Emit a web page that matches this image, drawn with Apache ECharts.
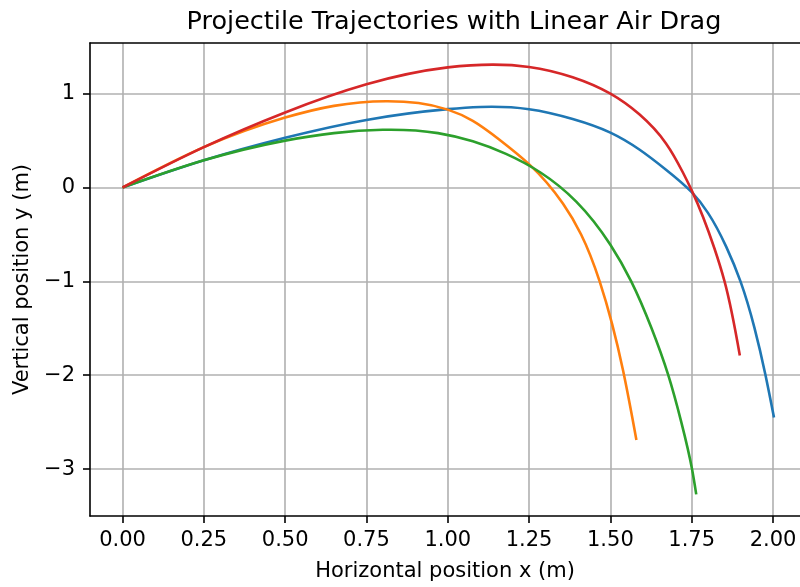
<!DOCTYPE html>
<html>
<head>
<meta charset="utf-8">
<script src="https://cdn.jsdelivr.net/npm/echarts@6/dist/echarts.min.js"></script>
<style>
  html, body { margin: 0; padding: 0; background: #fff; }
  #chart { width: 800px; height: 587px; }
</style>
</head>
<body>
<div id="chart"></div>
<script>
// tick values
const xTicks = [0, 0.25, 0.5, 0.75, 1.0, 1.25, 1.5, 1.75, 2.0];
const yTicks = [-3, -2, -1, 0, 1];

// trajectories: [x, y]
const trajBlue = [
  [0, 0], [0.25, 0.29], [0.5, 0.53], [0.75, 0.72], [1.0, 0.835], [1.1, 0.858],
  [1.25, 0.834], [1.384, 0.73], [1.5, 0.585], [1.589, 0.405], [1.671, 0.19],
  [1.75, -0.05], [1.80, -0.27], [1.856, -0.63], [1.90, -1.0], [1.943, -1.495],
  [1.977, -2.0], [2.003, -2.45]
];
const trajOrange = [
  [0, 0], [0.25, 0.43], [0.5, 0.745], [0.65, 0.87], [0.81, 0.92], [0.91, 0.90],
  [1.0, 0.83], [1.077, 0.711], [1.159, 0.51], [1.249, 0.252], [1.354, -0.171],
  [1.41, -0.50], [1.467, -1.0], [1.505, -1.45], [1.539, -1.95], [1.58, -2.69]
];
const trajGreen = [
  [0, 0], [0.25, 0.29], [0.5, 0.50], [0.65, 0.58], [0.8, 0.615], [0.97, 0.58],
  [1.077, 0.492], [1.179, 0.358], [1.285, 0.16], [1.395, -0.15], [1.50, -0.61],
  [1.564, -1.0], [1.626, -1.495], [1.678, -2.0], [1.718, -2.5], [1.751, -3.0],
  [1.764, -3.27]
];
const trajRed = [
  [0, 0], [0.25, 0.43], [0.5, 0.80], [0.75, 1.10], [1.0, 1.28], [1.14, 1.31],
  [1.25, 1.285], [1.384, 1.175], [1.5, 1.0], [1.589, 0.78], [1.671, 0.47],
  [1.723, 0.16], [1.75, -0.03], [1.82, -0.65], [1.851, -1.0], [1.898, -1.79]
];

const font = 'DejaVu Sans';
const minus = v => String(v).replace('-', '\u2212');

const chart = echarts.init(document.getElementById('chart'));

// natural cubic spline (chord-length parameter) through pixel points, as bezier path
function splinePath(pts) {
  const n = pts.length;
  const t = [0];
  for (let i = 1; i < n; i++) {
    t.push(t[i - 1] + Math.hypot(pts[i][0] - pts[i - 1][0], pts[i][1] - pts[i - 1][1]));
  }
  const h = [];
  for (let i = 0; i < n - 1; i++) h.push(t[i + 1] - t[i]);
  function second(v) {
    // solve tridiagonal system for second derivatives, natural ends
    const M = new Array(n).fill(0);
    if (n < 3) return M;
    const a = [], b = [], c = [], r = [];
    for (let i = 1; i < n - 1; i++) {
      a.push(h[i - 1]);
      b.push(2 * (h[i - 1] + h[i]));
      c.push(h[i]);
      r.push(6 * ((v[i + 1] - v[i]) / h[i] - (v[i] - v[i - 1]) / h[i - 1]));
    }
    const m = b.length;
    for (let i = 1; i < m; i++) {
      const w = a[i] / b[i - 1];
      b[i] -= w * c[i - 1];
      r[i] -= w * r[i - 1];
    }
    const s = new Array(m);
    s[m - 1] = r[m - 1] / b[m - 1];
    for (let i = m - 2; i >= 0; i--) s[i] = (r[i] - c[i] * s[i + 1]) / b[i];
    for (let i = 0; i < m; i++) M[i + 1] = s[i];
    return M;
  }
  const xs = pts.map(p => p[0]), ys = pts.map(p => p[1]);
  const Mx = second(xs), My = second(ys);
  let path = 'M' + xs[0] + ' ' + ys[0];
  for (let i = 0; i < n - 1; i++) {
    const hi = h[i];
    const dx0 = (xs[i + 1] - xs[i]) / hi - hi * (2 * Mx[i] + Mx[i + 1]) / 6;
    const dy0 = (ys[i + 1] - ys[i]) / hi - hi * (2 * My[i] + My[i + 1]) / 6;
    const dx1 = (xs[i + 1] - xs[i]) / hi + hi * (Mx[i] + 2 * Mx[i + 1]) / 6;
    const dy1 = (ys[i + 1] - ys[i]) / hi + hi * (My[i] + 2 * My[i + 1]) / 6;
    path += 'C' + (xs[i] + dx0 * hi / 3) + ' ' + (ys[i] + dy0 * hi / 3) + ' ' +
      (xs[i + 1] - dx1 * hi / 3) + ' ' + (ys[i + 1] - dy1 * hi / 3) + ' ' +
      xs[i + 1] + ' ' + ys[i + 1];
  }
  return path;
}

function curve(data, color) {
  return {
    type: 'custom',
    data: data,
    encode: { x: 0, y: 1 },
    renderItem: function (params, api) {
      if (params.dataIndex !== 0) return null;
      const pts = data.map(p => api.coord(p));
      return {
        type: 'path',
        shape: { pathData: splinePath(pts) },
        style: { stroke: color, fill: 'none', lineWidth: 2.6, lineJoin: 'round' }
      };
    }
  };
}

chart.setOption({
  animation: false,
  title: {
    text: 'Projectile Trajectories with Linear Air Drag',
    left: 449,
    textAlign: 'center',
    top: 4,
    textStyle: { fontFamily: font, fontSize: 25.5, fontWeight: 'normal', color: '#000' }
  },
  grid: { left: 90, right: 0, top: 43, bottom: 69 },
  xAxis: [{
    type: 'value',
    min: -0.1,
    max: 2.083,
    name: 'Horizontal position x (m)',
    nameLocation: 'middle',
    nameGap: 45,
    nameTextStyle: { fontFamily: font, fontSize: 21, color: '#000' },
    axisLine: { onZero: false, lineStyle: { color: '#000', width: 1.6 } },
    axisTick: { customValues: xTicks, length: 7, lineStyle: { color: '#000', width: 1.6 } },
    axisLabel: {
      customValues: xTicks, margin: 14,
      fontFamily: font, fontSize: 21, color: '#000',
      formatter: v => v.toFixed(2)
    },
    splitLine: { show: true, lineStyle: { color: '#b0b0b0', width: 1.6 } }
  }, {
    type: 'value',
    position: 'top',
    min: -0.1,
    max: 2.083,
    axisLine: { show: true, onZero: false, lineStyle: { color: '#000', width: 1.6 } },
    axisTick: { show: false },
    axisLabel: { show: false },
    splitLine: { show: false }
  }],
  yAxis: {
    type: 'value',
    min: -3.5,
    max: 1.54,
    name: 'Vertical position y (m)',
    nameLocation: 'middle',
    nameGap: 57,
    nameTextStyle: { fontFamily: font, fontSize: 21, color: '#000' },
    axisLine: { show: true, onZero: false, lineStyle: { color: '#000', width: 1.6 } },
    axisTick: { show: true, customValues: yTicks, length: 7, lineStyle: { color: '#000', width: 1.6 } },
    axisLabel: {
      customValues: yTicks, margin: 15,
      fontFamily: font, fontSize: 21, color: '#000',
      formatter: v => minus(v)
    },
    splitLine: { show: true, lineStyle: { color: '#b0b0b0', width: 1.6 } }
  },
  series: [
    curve(trajBlue, '#1f77b4'),
    curve(trajOrange, '#ff7f0e'),
    curve(trajGreen, '#2ca02c'),
    curve(trajRed, '#d62728')
  ]
});
</script>
</body>
</html>
